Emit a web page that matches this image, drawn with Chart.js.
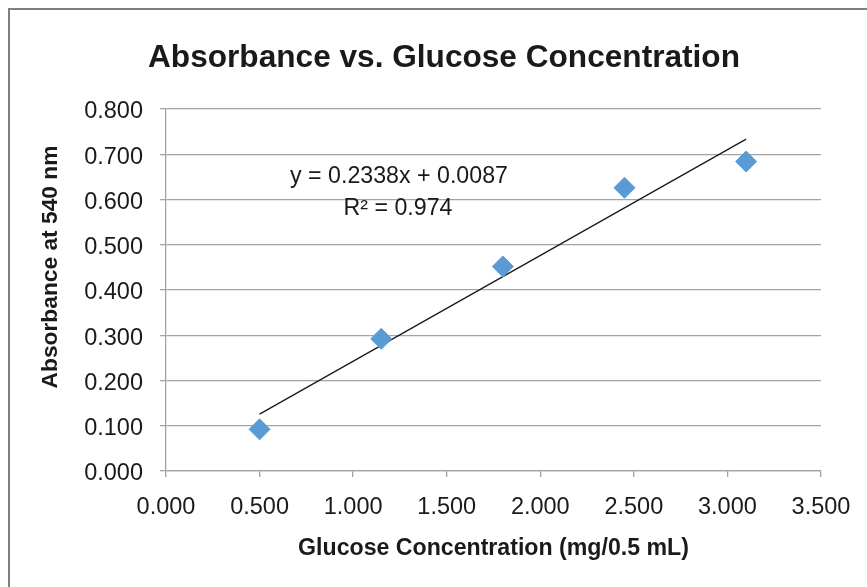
<!DOCTYPE html>
<html><head><meta charset="utf-8">
<script src="https://cdn.jsdelivr.net/npm/chart.js@4.4.0/dist/chart.umd.min.js"></script>
<style>
html,body{margin:0;padding:0;background:#fff;}
#wrap{position:relative;width:867px;height:587px;overflow:hidden;background:#fff;}
#frame{position:absolute;left:8px;top:8px;width:900px;height:700px;border:2px solid #7f7f7f;box-sizing:border-box;}
canvas{position:absolute;left:0;top:0;}
</style></head><body>
<div id="wrap"><div id="frame"></div><canvas id="c" width="867" height="587"></canvas></div>
<script>
const concentrations = [0.5, 1.15, 1.8, 2.45, 3.1];
const absorbances = [0.092, 0.292, 0.452, 0.626, 0.684];
const trendSlope = 0.2338;
const trendIntercept = 0.0087;
const rSquared = 0.974;
const xTicks = [0, 0.5, 1.0, 1.5, 2.0, 2.5, 3.0, 3.5];
const yTicks = [0, 0.1, 0.2, 0.3, 0.4, 0.5, 0.6, 0.7, 0.8];
const chartTitle = 'Absorbance vs. Glucose Concentration';
const xTitle = 'Glucose Concentration (mg/0.5 mL)';
const yTitle = 'Absorbance at 540 nm';
const eqLine1 = 'y = ' + trendSlope.toFixed(4) + 'x + ' + trendIntercept.toFixed(4);
const eqLine2 = 'R\u00B2 = ' + rSquared.toFixed(3);

const trendX = [concentrations[0], concentrations[concentrations.length - 1]];
const trendData = trendX.map(x => ({x: x, y: trendSlope * x + trendIntercept}));
const pointData = concentrations.map((x, i) => ({x: x, y: absorbances[i]}));

const FONT = '"Liberation Sans", Arial, sans-serif';
const BOLDFONT = '"Liberation Sans", Arial, sans-serif';
const GRID = '#a3a3a3';
const INK = '#1a1a1a';

function fitFont(ctx, text, weight, family, width) {
  ctx.font = weight + ' 100px ' + family;
  const w = ctx.measureText(text).width;
  const size = 100 * width / w;
  return weight + ' ' + size.toFixed(2) + 'px ' + family;
}

const textPlugin = {
  id: 'texts',
  afterDraw(chart) {
    const ctx = chart.ctx;
    ctx.save();
    ctx.fillStyle = INK;
    ctx.textAlign = 'center';
    ctx.textBaseline = 'middle';
    ctx.font = fitFont(ctx, chartTitle, 'bold', BOLDFONT, 592);
    ctx.fillText(chartTitle, 444, 58);
    ctx.font = fitFont(ctx, eqLine1, 'normal', FONT, 218);
    ctx.fillText(eqLine1, 399, 177);
    ctx.fillText(eqLine2, 398, 209);
    ctx.font = fitFont(ctx, xTitle, 'bold', BOLDFONT, 391);
    ctx.fillText(xTitle, 493.5, 549);
    ctx.translate(51, 267);
    ctx.rotate(-Math.PI / 2);
    ctx.font = fitFont(ctx, yTitle, 'bold', BOLDFONT, 243);
    ctx.fillText(yTitle, 0, 0);
    ctx.restore();
  }
};

new Chart(document.getElementById('c'), {
  type: 'scatter',
  data: {
    datasets: [
      {
        type: 'line',
        data: trendData,
        borderColor: INK,
        borderWidth: 1.3,
        pointRadius: 0,
        fill: false,
        order: 2
      },
      {
        data: pointData,
        pointStyle: 'rectRot',
        pointRadius: 10.5,
        backgroundColor: '#5b9bd5',
        borderColor: '#5b9bd5',
        borderWidth: 1,
        order: 1
      }
    ]
  },
  options: {
    responsive: false,
    animation: false,
    devicePixelRatio: 1,
    layout: {padding: {top: 109, right: 46, bottom: 0, left: 0}},
    plugins: {legend: {display: false}, tooltip: {enabled: false}, title: {display: false}},
    scales: {
      x: {
        type: 'linear', min: 0, max: 3.5,
        afterBuildTicks: s => { s.ticks = xTicks.map(v => ({value: v})); },
        afterFit: s => { s.height = 116; },
        ticks: {callback: v => v.toFixed(3), color: INK, font: {family: FONT, size: 23.5}, padding: 16, maxRotation: 0, autoSkip: false},
        grid: {drawOnChartArea: false, drawTicks: true, tickLength: 6, color: GRID, lineWidth: 1.3},
        border: {color: GRID, width: 1.3}
      },
      y: {
        type: 'linear', min: 0, max: 0.8,
        afterBuildTicks: s => { s.ticks = yTicks.map(v => ({value: v})); },
        afterFit: s => { s.width = 166; },
        ticks: {callback: v => v.toFixed(3), color: INK, font: {family: FONT, size: 23.5}, padding: 17, labelOffset: 3, autoSkip: false},
        grid: {drawOnChartArea: true, drawTicks: true, tickLength: 6, color: GRID, lineWidth: 1.3},
        border: {color: GRID, width: 1.3}
      }
    }
  },
  plugins: [textPlugin]
});
</script>
</body></html>
